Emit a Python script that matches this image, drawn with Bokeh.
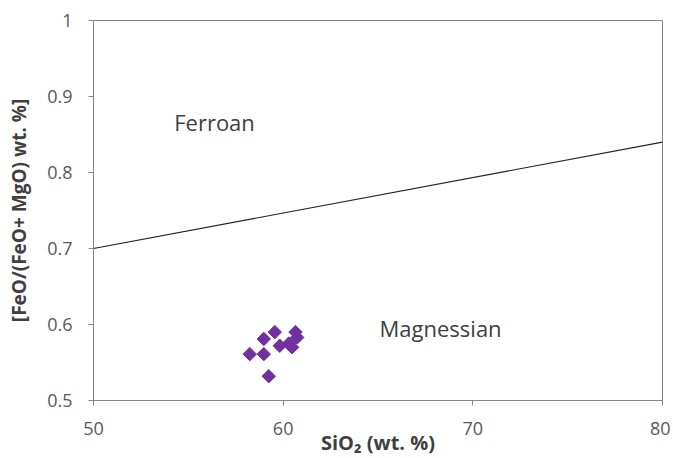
import math
from bokeh.plotting import figure
from bokeh.models import Range1d, FixedTicker, Label
from bokeh.embed import file_html
from bokeh.resources import INLINE

sio2 = [58.24, 58.98, 59.56, 58.98, 59.24, 59.82, 60.30, 60.65, 60.74, 60.47]
feo_ratio = [0.561, 0.581, 0.590, 0.561, 0.532, 0.572, 0.575, 0.590, 0.583, 0.570]
boundary_x = [50, 80]
boundary_y = [0.70, 0.84]
x_ticks = [50, 60, 70, 80]
y_ticks = [0.5, 0.6, 0.7, 0.8, 0.9, 1.0]

p = figure(width=670, height=458, output_backend="svg", toolbar_location=None,
           x_range=Range1d(50, 80), y_range=Range1d(0.5, 1.0),
           min_border_left=93, min_border_right=8, min_border_top=20, min_border_bottom=58)
p.xgrid.visible = False
p.ygrid.visible = False
p.outline_line_color = "#868686"
p.outline_line_width = 1

for ax in (p.xaxis[0], p.yaxis[0]):
    ax.axis_line_color = "#868686"
    ax.major_tick_line_color = "#868686"
    ax.major_tick_in = 0
    ax.major_tick_out = 5
    ax.minor_tick_line_color = None
    ax.major_label_text_font = "Open Sans"
    ax.major_label_text_font_size = "18px"
    ax.major_label_text_color = "#595959"
    ax.axis_label_text_font = "Open Sans"
    ax.axis_label_text_font_style = "bold"
    ax.axis_label_text_color = "#404040"

p.xaxis.axis_label_text_font_size = "20px"
p.yaxis.axis_label_text_font_size = "19px"
p.xaxis.ticker = FixedTicker(ticks=x_ticks)
p.yaxis.ticker = FixedTicker(ticks=y_ticks)
p.yaxis.major_label_overrides = {1.0: "1", 1: "1"}
p.xaxis.axis_label = "SiO₂ (wt. %)"
p.yaxis.axis_label = "[FeO/(FeO+ MgO) wt. %]"
p.xaxis.major_label_standoff = 16
p.xaxis.axis_label_standoff = -9
p.yaxis.major_label_standoff = 16
p.yaxis.axis_label_standoff = 12

p.line(boundary_x, boundary_y, line_color="#202020", line_width=1.2)
p.scatter(sio2, feo_ratio, marker="square", angle=math.pi / 4, size=9.5,
          fill_color="#7030A0", line_color="#7030A0")

p.add_layout(Label(x=56.38, y=0.867, text="Ferroan", text_align="center", text_baseline="middle",
                   text_font="Open Sans", text_font_size="22px", text_color="#404040"))
p.add_layout(Label(x=68.3, y=0.596, text="Magnessian", text_align="center", text_baseline="middle",
                   text_font="Open Sans", text_font_size="22px", text_color="#404040"))

open("out.html", "w").write(file_html(p, INLINE))
